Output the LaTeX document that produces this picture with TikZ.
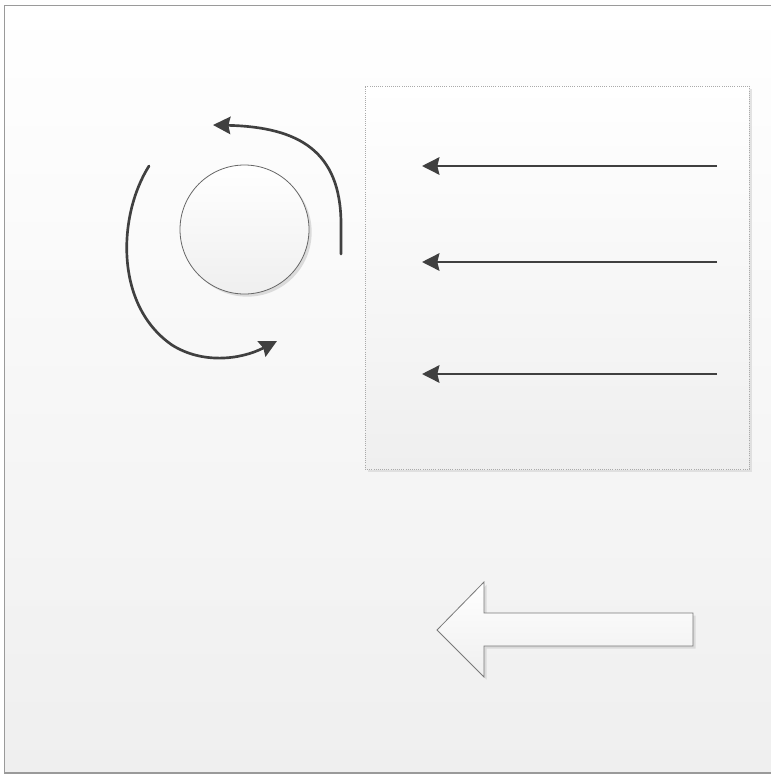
\documentclass[tikz,border=0pt]{standalone}
\usepackage{tikz}
\usetikzlibrary{arrows.meta,shadows}
\definecolor{FrameGray}{HTML}{9A9A9A}
\definecolor{InkGray}{HTML}{404040}
\definecolor{PaleGray}{HTML}{EFEFEF}
\definecolor{ShadeGray}{HTML}{D8D8D8}
\definecolor{DotGray}{HTML}{AAAAAA}
\begin{document}
\begin{tikzpicture}[x=0.75pt,y=-0.75pt,
flow/.style={-{Stealth[length=13pt,width=13pt,inset=1.5pt]},line width=2pt,draw=InkGray},
soft/.style={top color=white,bottom color=PaleGray},
wheel/.style={circle,draw=InkGray!80,line width=0.6pt,soft,minimum size=96.75pt,inner sep=0pt,
  drop shadow={shadow xshift=2pt,shadow yshift=-2pt,fill=ShadeGray,opacity=0.9}},
panel/.style={rectangle,draw=DotGray,densely dotted,line width=0.6pt,soft,inner sep=0pt,
  minimum width=288pt,minimum height=287.25pt,
  drop shadow={shadow xshift=2.5pt,shadow yshift=-2.5pt,fill=ShadeGray,opacity=0.7}}
]
\useasboundingbox (0,0) rectangle (771,775);
% page frame
\fill[white] (0,0) rectangle (771,775);
\shade[top color=white,bottom color=PaleGray] (4.5,5.5) rectangle (772,773);
\draw[FrameGray,line width=1.2pt] (772,5.5) -- (4.5,5.5) -- (4.5,773) -- (772,773);
% rotating part
\node[wheel] (wheel) at (244.5,229.5) {};
\coordinate (lstart) at (149,166);
\coordinate (lend) at (277,341);
\coordinate (rstart) at (341,254);
\coordinate (rend) at (213,125);
\draw[flow,line cap=round] (lstart) .. controls (118,215) and (114,305) .. (172,345)
  .. controls (202,364) and (240,360) .. (lend);
\draw[flow,line cap=round] (rstart) -- (341,222) .. controls (340,152) and (300,127) .. (rend);
% flow field
\node[panel] (panel) at (557,277.5) {};
\coordinate (in1) at (717,166);
\coordinate (out1) at (422,166);
\coordinate (in2) at (717,262);
\coordinate (out2) at (422,262);
\coordinate (in3) at (717,374);
\coordinate (out3) at (422,374);
\draw[flow] (in1) -- (out1);
\draw[flow] (in2) -- (out2);
\draw[flow] (in3) -- (out3);
% direction arrow
\draw[draw=InkGray!70,line width=0.6pt,soft,
  drop shadow={shadow xshift=2pt,shadow yshift=-2pt,fill=ShadeGray,opacity=0.9}]
  (437,630) -- (484,582) -- (484,613) -- (693,613) -- (693,646) -- (484,646) -- (484,677) -- cycle;
\end{tikzpicture}
\end{document}
